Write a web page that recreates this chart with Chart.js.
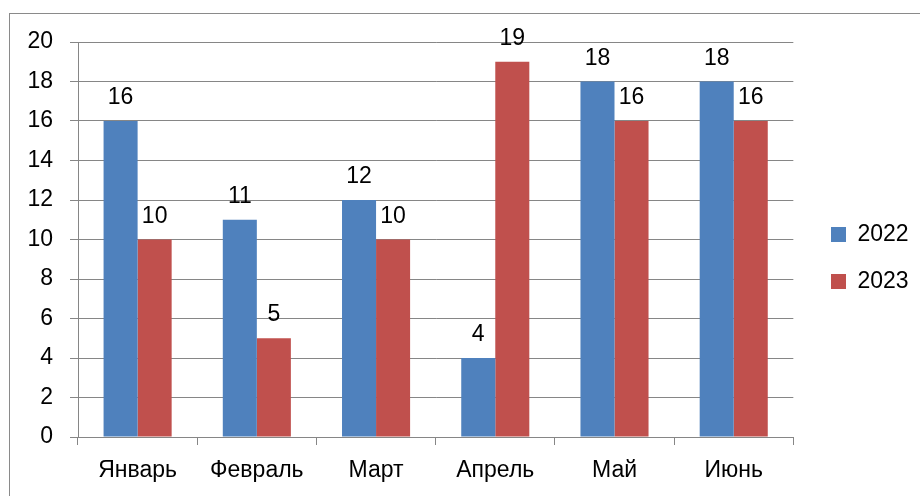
<!DOCTYPE html>
<html>
<head>
<meta charset="utf-8">
<script src="https://cdn.jsdelivr.net/npm/chart.js@4/dist/chart.umd.min.js"></script>
<style>
  html, body { margin: 0; padding: 0; background: #ffffff; }
  #wrap { width: 920px; height: 496px; }
</style>
</head>
<body>
<div id="wrap"><canvas id="c" width="920" height="496"></canvas></div>
<script>
const categories = ['Январь', 'Февраль', 'Март', 'Апрель', 'Май', 'Июнь'];
const seriesNames = ['2022', '2023'];
const values2022 = [16, 11, 12, 4, 18, 18];
const values2023 = [10, 5, 10, 19, 16, 16];
const yTicks = [0, 2, 4, 6, 8, 10, 12, 14, 16, 18, 20];

const FONT = "'Liberation Sans', Arial, sans-serif";
const GRID = '#868686';

const frame = {
  id: 'frame',
  beforeDraw(chart) {
    const ctx = chart.ctx;
    ctx.save();
    ctx.fillStyle = '#ffffff';
    ctx.fillRect(0, 0, chart.width, chart.height);
    ctx.strokeStyle = '#8a8a8a';
    ctx.lineWidth = 1;
    ctx.strokeRect(9.5, 13.5, 1200, 1200);
    ctx.restore();
  }
};

const legendPlace = {
  id: 'legendPlace',
  afterLayout(chart) {
    const lg = chart.legend;
    if (!lg) return;
    const w = lg.right - lg.left, h = lg.bottom - lg.top;
    lg.left = 807; lg.right = 807 + w;
    lg.top = 199; lg.bottom = 199 + Math.max(h, 150);
  }
};

const valueLabels = {
  id: 'valueLabels',
  afterDatasetsDraw(chart) {
    const ctx = chart.ctx;
    ctx.save();
    ctx.font = '23px ' + FONT;
    ctx.fillStyle = '#000000';
    ctx.textAlign = 'center';
    ctx.textBaseline = 'alphabetic';
    chart.data.datasets.forEach((ds, i) => {
      const meta = chart.getDatasetMeta(i);
      meta.data.forEach((bar, j) => {
        ctx.fillText(String(ds.data[j]), bar.x, bar.y - 17);
      });
    });
    ctx.restore();
  }
};

new Chart(document.getElementById('c'), {
  type: 'bar',
  data: {
    labels: categories,
    datasets: [
      { label: seriesNames[0], data: values2022, backgroundColor: '#4F81BD', borderWidth: 0 },
      { label: seriesNames[1], data: values2023, backgroundColor: '#C0504D', borderWidth: 0 }
    ]
  },
  options: {
    responsive: false,
    animation: false,
    devicePixelRatio: 1,
    layout: { padding: { top: 42, bottom: 0, left: 0, right: 15 } },
    datasets: { bar: { categoryPercentage: 0.571, barPercentage: 1.0 } },
    plugins: {
      tooltip: { enabled: false },
      legend: {
        position: 'right',
        align: 'start',
        labels: {
          boxWidth: 15,
          boxHeight: 15,
          padding: 24,
          color: '#000000',
          font: { family: FONT, size: 23 }
        }
      }
    },
    scales: {
      x: {
        afterFit(s) { s.height = 59; },
        grid: { drawOnChartArea: false, drawTicks: true, tickLength: 8, color: GRID, lineWidth: 1, offset: true },
        border: { display: true, color: GRID, width: 1 },
        ticks: { color: '#000000', padding: 12, font: { family: FONT, size: 23 } }
      },
      y: {
        min: 0,
        max: 20,
        afterFit(s) { s.width = 78; },
        afterBuildTicks(s) { s.ticks = yTicks.map(v => ({ value: v })); },
        grid: { color: GRID, lineWidth: 1, drawTicks: true, tickLength: 8 },
        border: { display: true, color: GRID, width: 1 },
        ticks: { color: '#000000', padding: 17, font: { family: FONT, size: 23 } }
      }
    }
  },
  plugins: [frame, legendPlace, valueLabels]
});
</script>
</body>
</html>
